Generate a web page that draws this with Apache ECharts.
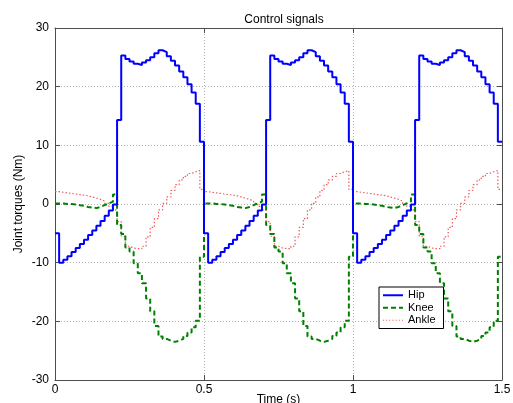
<!DOCTYPE html>
<html>
<head>
<meta charset="utf-8">
<script src="https://cdn.jsdelivr.net/npm/echarts@6/dist/echarts.min.js"></script>
<style>
  html, body { margin: 0; padding: 0; background: #ffffff; }
  #chart { width: 513px; height: 403px; }
</style>
</head>
<body>
<div id="chart"></div>
<script>
// Sampling period of the controller output (36 samples per 0.5 s gait cycle)
const sampleTime = 0.5 / 36;
const endTime = 1.5;

const xTicks = ['0', '0.5', '1', '1.5'];
const yTicks = [-30, -20, -10, 0, 10, 20, 30];

// Hip torque (Nm), one value per sample
const hipTorque = [
  // 0 - 0.5 s
  -5, -10, -9.5, -8.9, -8.2, -7.5, -6.8, -6.1, -5.3, -4.5, -3.7, -2.9, -2.0, -1.1, -0.1,
  14.3, 25.3, 24.7, 24.3, 23.9, 23.7, 24.1, 24.5, 25.0, 25.7, 26.2, 25.9, 25.2, 24.4, 23.6,
  22.6, 21.6, 20.4, 19.0, 17.1, 10.6,
  // 0.5 - 1.0 s
  -5, -10, -9.5, -8.9, -8.2, -7.5, -6.8, -6.1, -5.3, -4.5, -3.7, -2.9, -2.0, -1.1, -0.1,
  14.3, 25.3, 24.7, 24.3, 23.9, 23.7, 24.1, 24.5, 25.0, 25.7, 26.2, 25.9, 25.2, 24.4, 23.6,
  22.6, 21.6, 20.4, 19.0, 17.1, 10.6,
  // 1.0 - 1.5 s
  -5, -10, -9.5, -8.9, -8.2, -7.5, -6.8, -6.1, -5.3, -4.5, -3.7, -2.9, -2.0, -1.1, -0.1,
  14.3, 25.3, 24.7, 24.3, 23.9, 23.7, 24.1, 24.5, 25.0, 25.7, 26.2, 25.9, 25.2, 24.4, 23.6,
  22.6, 21.6, 20.4, 19.0, 17.1, 10.6
];

// Knee torque (Nm)
const kneeTorque = [
  // 0 - 0.5 s
  0.1, 0.1, 0.0, 0.0, -0.1, -0.2, -0.3, -0.5, -0.6, -0.7, -0.5, -0.2, 0.1, 0.4, 1.6,
  -3.6, -5.1, -7.4, -8.1, -10.1, -11.8, -13.5, -16.1, -18.3, -20.8, -22.6, -23.0, -23.3, -23.5, -23.3,
  -23.0, -22.5, -21.9, -21.0, -19.9, -9.0,
  // 0.5 - 1.0 s
  0.1, 0.1, 0.0, 0.0, -0.1, -0.2, -0.3, -0.5, -0.6, -0.7, -0.5, -0.2, 0.1, 0.4, 1.6,
  -3.6, -5.1, -7.4, -8.1, -10.1, -11.8, -13.5, -16.1, -18.3, -20.8, -22.6, -23.0, -23.3, -23.5, -23.3,
  -23.0, -22.5, -21.9, -21.0, -19.9, -9.0,
  // 1.0 - 1.5 s
  0.1, 0.1, 0.0, 0.0, -0.1, -0.2, -0.3, -0.5, -0.6, -0.7, -0.5, -0.2, 0.1, 0.4, 1.6,
  -3.6, -5.1, -7.4, -8.1, -10.1, -11.8, -13.5, -16.1, -18.3, -20.8, -22.6, -23.0, -23.3, -23.5, -23.3,
  -23.0, -22.5, -21.9, -21.0, -19.9, -9.0
];

// Ankle torque (Nm)
const ankleTorque = [
  // 0 - 0.5 s
  2.1, 2.0, 1.9, 1.8, 1.7, 1.6, 1.5, 1.4, 1.2, 1.0, 0.8, 0.5, 0.1, -0.4, -1.0,
  -3.0, -5.5, -7.2, -7.5, -7.6, -7.6, -7.2, -5.6, -4.0, -2.5, -1.0, 0.1, 1.2, 2.3, 3.3,
  4.1, 4.7, 5.2, 5.5, 5.7, 2.5,
  // 0.5 - 1.0 s
  2.1, 2.0, 1.9, 1.8, 1.7, 1.6, 1.5, 1.4, 1.2, 1.0, 0.8, 0.5, 0.1, -0.4, -1.0,
  -3.0, -5.5, -7.2, -7.5, -7.6, -7.6, -7.2, -5.6, -4.0, -2.5, -1.0, 0.1, 1.2, 2.3, 3.3,
  4.1, 4.7, 5.2, 5.5, 5.7, 2.5,
  // 1.0 - 1.5 s
  2.1, 2.0, 1.9, 1.8, 1.7, 1.6, 1.5, 1.4, 1.2, 1.0, 0.8, 0.5, 0.1, -0.4, -1.0,
  -3.0, -5.5, -7.2, -7.5, -7.6, -7.6, -7.2, -5.6, -4.0, -2.5, -1.0, 0.1, 1.2, 2.3, 3.3,
  4.1, 4.7, 5.2, 5.5, 5.7, 2.5
];

const seriesNames = ['Hip', 'Knee', 'Ankle'];

function toPairs(values) {
  const pts = values.map((v, i) => [i * sampleTime, v]);
  pts.push([endTime, values[values.length - 1]]); // hold last sample to the end
  return pts;
}

const FONT = 'Liberation Sans, Arial, Helvetica, sans-serif';
const AXIS_COLOR = '#4d4d4d';
const GRID_LINE = { show: true, lineStyle: { color: '#b0b0b0', type: [1, 2], width: 1 } };

// Legend glyphs (solid / dashed / dotted line samples)
const legendIcons = [
  'path://M0,0h20v2h-20z',
  'path://M0,0h5v2h-5zM8,0h5v2h-5zM16,0h4v2h-4z',
  'path://M0,0h1v1h-1zM3,0h1v1h-1zM6,0h1v1h-1zM9,0h1v1h-1zM12,0h1v1h-1zM15,0h1v1h-1zM18,0h1v1h-1z'
];

const chart = echarts.init(document.getElementById('chart'), null, { renderer: 'canvas' });

chart.setOption({
  backgroundColor: '#ffffff',
  animation: false,
  title: {
    text: 'Control signals',
    left: 279, top: 9, textAlign: 'center',
    textStyle: { fontFamily: FONT, fontSize: 12, fontWeight: 'normal', color: '#000' }
  },
  grid: { left: 55, right: 11, top: 28, bottom: 23, containLabel: false, outerBoundsMode: 'none' },
  legend: {
    orient: 'vertical',
    left: 379, top: 287,
    padding: [2, 8, 2, 4],
    itemGap: 0,
    itemWidth: 20, itemHeight: 2,
    backgroundColor: '#ffffff',
    borderColor: '#000', borderWidth: 1,
    textStyle: { fontFamily: FONT, fontSize: 11, color: '#000', lineHeight: 12.5 },
    data: seriesNames.map((n, i) => ({ name: n, icon: legendIcons[i] }))
  },
  xAxis: [{
    type: 'value', min: 0, max: endTime, interval: 0.5, position: 'bottom',
    name: 'Time (s)', nameLocation: 'middle', nameGap: 14, nameMoveOverlap: false,
    nameTextStyle: { fontFamily: FONT, fontSize: 12, color: '#000', verticalAlign: 'top' },
    axisLine: { show: true, onZero: false, lineStyle: { color: AXIS_COLOR, width: 1 } },
    axisTick: { show: true, inside: true, length: 5, lineStyle: { color: AXIS_COLOR } },
    axisLabel: {
      fontFamily: FONT, fontSize: 12, color: '#000', margin: 4,
      formatter: v => xTicks[Math.round(v / 0.5)]
    },
    splitLine: GRID_LINE
  }, {
    type: 'value', min: 0, max: endTime, interval: 0.5, position: 'top',
    axisLine: { show: true, onZero: false, lineStyle: { color: AXIS_COLOR, width: 1 } },
    axisTick: { show: true, inside: true, length: 5, lineStyle: { color: AXIS_COLOR } },
    axisLabel: { show: false }, splitLine: { show: false }
  }],
  yAxis: [{
    type: 'value', min: yTicks[0], max: yTicks[yTicks.length - 1], interval: 10, position: 'left',
    name: 'Joint torques (Nm)', nameLocation: 'middle', nameGap: 30, nameRotate: 90, nameMoveOverlap: false,
    nameTextStyle: { fontFamily: FONT, fontSize: 12, color: '#000' },
    axisLine: { show: true, onZero: false, lineStyle: { color: AXIS_COLOR, width: 1 } },
    axisTick: { show: true, inside: true, length: 5, lineStyle: { color: AXIS_COLOR } },
    axisLabel: { fontFamily: FONT, fontSize: 12, color: '#000', margin: 6 },
    splitLine: GRID_LINE
  }, {
    type: 'value', min: yTicks[0], max: yTicks[yTicks.length - 1], interval: 10, position: 'right',
    axisLine: { show: true, onZero: false, lineStyle: { color: AXIS_COLOR, width: 1 } },
    axisTick: { show: true, inside: true, length: 5, lineStyle: { color: AXIS_COLOR } },
    axisLabel: { show: false }, splitLine: { show: false }
  }],
  series: [
    {
      name: seriesNames[0], type: 'line', step: 'end', symbol: 'none', z: 4,
      data: toPairs(hipTorque),
      lineStyle: { color: '#0000ff', width: 2 },
      itemStyle: { color: '#0000ff' }
    },
    {
      name: seriesNames[1], type: 'line', step: 'end', symbol: 'none', z: 3,
      data: toPairs(kneeTorque),
      lineStyle: { color: '#008000', width: 2, type: [5, 3] },
      itemStyle: { color: '#008000' }
    },
    {
      name: seriesNames[2], type: 'line', step: 'end', symbol: 'none', z: 2,
      data: toPairs(ankleTorque),
      lineStyle: { color: '#ee5a5a', width: 1.2, type: [1.5, 2] },
      itemStyle: { color: '#ee5a5a' }
    }
  ]
});
</script>
</body>
</html>
